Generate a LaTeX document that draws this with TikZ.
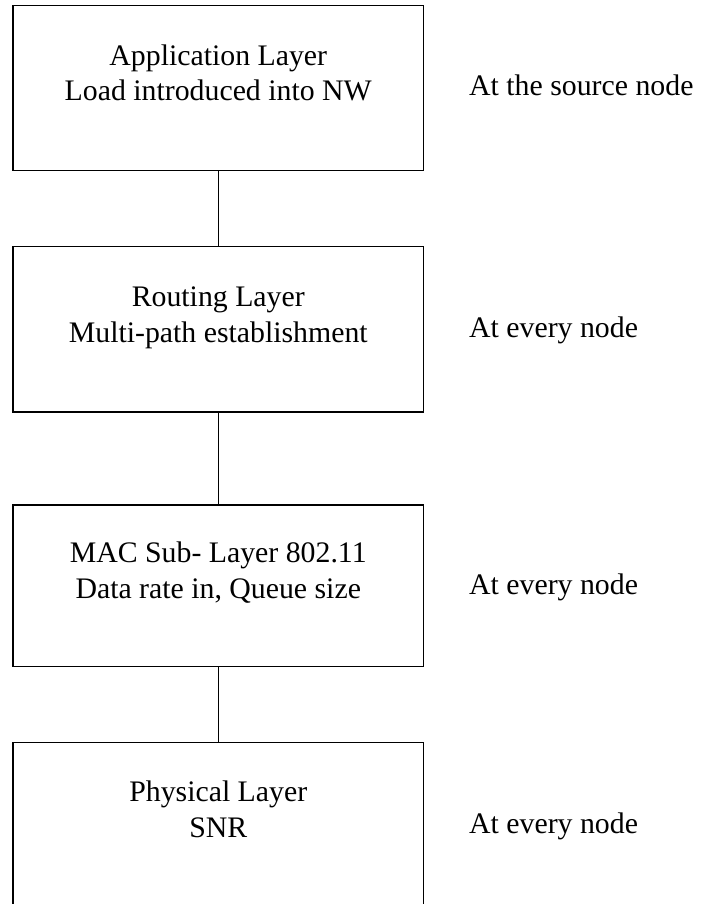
\documentclass[tikz,border=0pt]{standalone}
\usepackage{fontspec}
\setmainfont{Liberation Serif}
\begin{document}
\begin{tikzpicture}[x=1pt,y=-1pt,
  layerbox/.style={draw=black, line width=1.2pt, minimum width=410.5pt, inner sep=0pt},
  boxtext/.style={align=center, inner sep=0pt, yshift=12.3pt,
    font=\fontsize{29.8}{35.8}\selectfont},
  sidetext/.style={anchor=base west, inner sep=0pt,
    font=\fontsize{29.8}{35.8}\selectfont},
  link/.style={draw=black, line width=1.2pt}]
\useasboundingbox (0,0) rectangle (701,904);
\clip (0,0) rectangle (701,904);

% layer boxes
\node[layerbox, minimum height=165.2pt] (app) at (218.25,88.1) {};
\node[layerbox, minimum height=165.3pt] (rout) at (218.25,329.35) {};
\node[layerbox, minimum height=161.7pt] (mac) at (218.25,585.85) {};
\node[layerbox, minimum height=165pt] (phy) at (218.25,825) {};

% box contents
\node[boxtext] (appText) at (app.center) {\strut Application Layer\\\strut Load introduced into NW};
\node[boxtext] (routText) at (rout.center) {\strut Routing Layer\\\strut Multi-path establishment};
\node[boxtext] (macText) at (mac.center) {\strut MAC Sub- Layer 802.11\\\strut Data rate in, Queue size};
\node[boxtext] (phyText) at (phy.center) {\strut Physical Layer\\\strut SNR};

% where each layer acts
\node[sidetext] (appSide) at (469,96) {At the source node};
\node[sidetext] (routSide) at (469,337) {At every node};
\node[sidetext] (macSide) at (469,594) {At every node};
\node[sidetext] (phySide) at (469,833) {At every node};

% connectors between layers
\draw[link] (app.south) -- (rout.north);
\draw[link] (rout.south) -- (mac.north);
\draw[link] (mac.south) -- (phy.north);
\end{tikzpicture}
\end{document}
